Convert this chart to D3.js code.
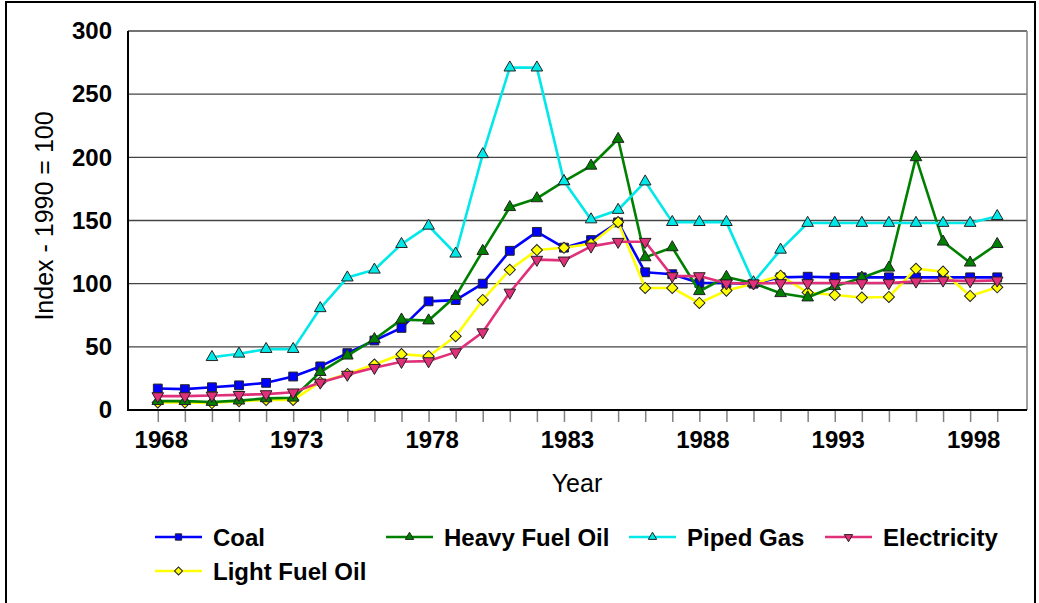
<!DOCTYPE html>
<html>
<head>
<meta charset="utf-8">
<script src="https://cdn.jsdelivr.net/npm/d3@7"></script>
<style>
  body { margin: 0; background: #fff; }
  svg { display: block; font-family: "Liberation Sans", Arial, sans-serif; }
</style>
</head>
<body>
<div id="chart"></div>
<script>
const years = [1968, 1969, 1970, 1971, 1972, 1973, 1974, 1975, 1976, 1977, 1978, 1979, 1980, 1981, 1982, 1983,
               1984, 1985, 1986, 1987, 1988, 1989, 1990, 1991, 1992, 1993, 1994, 1995, 1996, 1997, 1998, 1999]
const labelYears = [1968, 1973, 1978, 1983, 1988, 1993, 1998]
const yTicks = [0, 50, 100, 150, 200, 250, 300]

const coal = [17, 16.5, 18, 19.5, 21.5, 26.5, 34.5, 45, 55, 65, 86, 87, 100, 126, 141, 128.5,
              134.5, 148.5, 109, 107.5, 100.5, 100.5, 100, 105, 105.5, 105, 105, 105, 105, 105, 105, 105]
const heavyFuelOil = [7, 7, 6.3, 7.4, 9.2, 9.7, 30, 43, 56, 71.5, 70.8, 90, 125.8, 160.5, 167.5, 181,
                      193.3, 214.5, 120.8, 128.7, 94, 105.3, 100.3, 92.4, 89, 98, 104.7, 112.6, 200, 133.2, 116.6, 131.3]
const pipedGas = [null, null, 41.8, 44.5, 48.2, 48.2, 80.5, 104.8, 111, 131.3, 145.8, 123.7, 202.4, 271, 271, 181,
                  150.8, 158.3, 180.8, 148.7, 148.7, 148.7, 101, 126.8, 148, 148, 148, 148, 148, 148, 148, 153.4]
const electricity = [11, 11, 11.5, 12, 12.6, 14, 21.8, 28, 33.4, 38.2, 38.7, 45.8, 61.6, 93, 119, 118.4,
                     129.5, 133.2, 133.2, 106, 106, 100.3, 100.3, 100.5, 100.5, 100.5, 100.5, 100.5, 101.8, 102.6, 102, 102.6]
const lightFuelOil = [6, 6, 5.5, 7, 8, 8, 22, 28.5, 36, 44.2, 42.6, 58.4, 87.1, 111, 126.6, 128.4,
                      131.6, 148.7, 96.6, 96.6, 84.7, 94.5, 100, 106.3, 93, 91, 89, 89.5, 111.8, 109.5, 90.3, 97.1]

const seriesNames = ["Coal", "Heavy Fuel Oil", "Piped Gas", "Electricity", "Light Fuel Oil"]
const seriesColors = ["#0000ff", "#008000", "#00e8e8", "#e0307a", "#ffff00"]
const seriesShapes = ["square", "triangle", "triangle", "down", "diamond"]
const seriesValues = [coal, heavyFuelOil, pipedGas, electricity, lightFuelOil]
// draw order roughly as the reference stacks them
const drawOrder = [0, 4, 1, 2, 3]

const canvas = {width: 1039, height: 603, plot: {left: 128, top: 31, right: 1027, bottom: 410}}

const svg = d3.select("#chart").append("svg")
  .attr("width", canvas.width).attr("height", canvas.height)

const x = d3.scaleLinear().domain([1966.9, 2000.1]).range([canvas.plot.left, canvas.plot.right])
const y = d3.scaleLinear().domain([0, 300]).range([canvas.plot.bottom, canvas.plot.top])

// outer frame
svg.append("rect").attr("x", 6).attr("y", 2).attr("width", 1029).attr("height", 610)
  .attr("fill", "none").attr("stroke", "#000").attr("stroke-width", 2)

// gridlines
svg.append("g").selectAll("line").data(yTicks.filter(d => d > 0)).enter().append("line")
  .attr("x1", canvas.plot.left).attr("x2", canvas.plot.right)
  .attr("y1", d => y(d)).attr("y2", d => y(d))
  .attr("stroke", "#444").attr("stroke-width", 1.3)

// right border of plot
svg.append("line").attr("x1", canvas.plot.right).attr("x2", canvas.plot.right)
  .attr("y1", canvas.plot.top).attr("y2", canvas.plot.bottom)
  .attr("stroke", "#808080").attr("stroke-width", 1.5)

// x axis
const xAxis = d3.axisBottom(x).tickValues(years).tickSize(12).tickFormat(d => labelYears.includes(d) ? d : "")
const gx = svg.append("g").attr("transform", `translate(0,${canvas.plot.bottom})`).call(xAxis)
gx.select(".domain").remove()
gx.selectAll("line").attr("stroke", "#808080").attr("stroke-width", 1.5)
gx.selectAll("text").attr("font-size", "24px").attr("font-weight", "bold").attr("fill", "#000")
  .attr("dy", "0.95em").attr("dx", 3)
  .attr("font-family", "'Liberation Sans', Arial, sans-serif")

// y axis
const yAxis = d3.axisLeft(y).tickValues(yTicks).tickSize(0).tickPadding(16)
const gy = svg.append("g").attr("transform", `translate(${canvas.plot.left},0)`).call(yAxis)
gy.select(".domain").remove()
gy.selectAll("text").attr("font-size", "24px").attr("font-weight", "bold").attr("fill", "#000")
  .attr("font-family", "'Liberation Sans', Arial, sans-serif")

// axis lines
svg.append("line").attr("x1", canvas.plot.left).attr("x2", canvas.plot.left)
  .attr("y1", canvas.plot.top).attr("y2", canvas.plot.bottom + 1).attr("stroke", "#000").attr("stroke-width", 2)
svg.append("line").attr("x1", canvas.plot.left).attr("x2", canvas.plot.right)
  .attr("y1", canvas.plot.bottom).attr("y2", canvas.plot.bottom).attr("stroke", "#000").attr("stroke-width", 2)

// titles
svg.append("text").attr("x", 577).attr("y", 492).attr("text-anchor", "middle")
  .attr("font-size", "25px").text("Year")
svg.append("text").attr("transform", "translate(53,216) rotate(-90)").attr("text-anchor", "middle")
  .attr("font-size", "25px").text("Index - 1990 = 100")

function markerPath(shape, size) {
  if (shape === "square") return d3.symbol(d3.symbolSquare, size)()
  if (shape === "diamond") return d3.symbol(d3.symbolSquare, size * 0.8)()
  return d3.symbol(d3.symbolTriangle, size * 0.75)()
}
function markerRotate(shape) {
  if (shape === "diamond") return 45
  if (shape === "down") return 180
  return 0
}

const line = d3.line().defined(d => d.v !== null).x(d => x(d.year)).y(d => y(d.v))

drawOrder.forEach(i => {
  const pts = years.map((yr, j) => ({year: yr, v: seriesValues[i][j]}))
  const g = svg.append("g")
  g.append("path").datum(pts).attr("d", line)
    .attr("fill", "none").attr("stroke", seriesColors[i]).attr("stroke-width", 2.6)
    .attr("stroke-linejoin", "round")
  g.selectAll("path.mk").data(pts.filter(d => d.v !== null)).enter().append("path").attr("class", "mk")
    .attr("d", markerPath(seriesShapes[i], 78))
    .attr("transform", d => `translate(${x(d.year)},${y(d.v)}) rotate(${markerRotate(seriesShapes[i])})`)
    .attr("fill", seriesColors[i]).attr("stroke", "#222").attr("stroke-width", 1)
})

// legend
const legendItems = [
  {i: 0, x: 155, y: 537}, {i: 1, x: 386, y: 537}, {i: 2, x: 629, y: 537},
  {i: 3, x: 825, y: 537}, {i: 4, x: 155, y: 571}
]
const lg = svg.append("g").selectAll("g").data(legendItems).enter().append("g")
  .attr("transform", d => `translate(${d.x},${d.y})`)
lg.append("line").attr("x1", 0).attr("x2", 47).attr("y1", 0).attr("y2", 0)
  .attr("stroke", d => seriesColors[d.i]).attr("stroke-width", 2.6)
lg.append("path").attr("d", d => markerPath(seriesShapes[d.i], 40))
  .attr("transform", d => `translate(23.5,0) rotate(${markerRotate(seriesShapes[d.i])})`)
  .attr("fill", d => seriesColors[d.i]).attr("stroke", "#222").attr("stroke-width", 1)
lg.append("text").attr("x", 58).attr("y", 0).attr("dy", "0.36em")
  .attr("font-size", "24px").attr("font-weight", "bold").text(d => seriesNames[d.i])
</script>
</body>
</html>
